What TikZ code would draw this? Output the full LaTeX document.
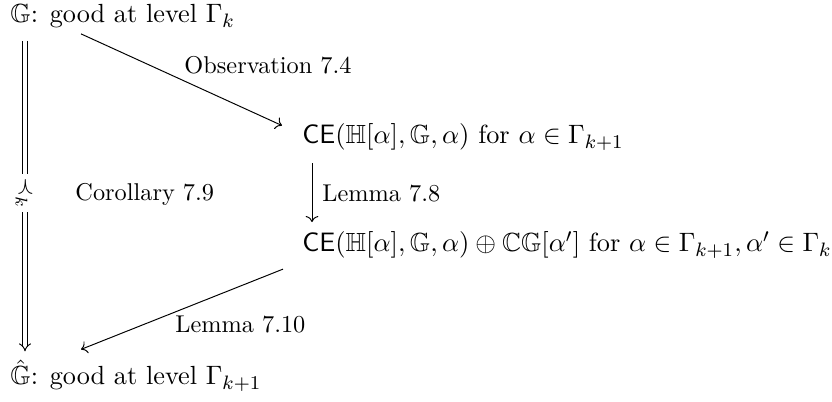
\documentclass[tikz,border=0pt]{standalone}
\usepackage{amsmath,amssymb}
\usetikzlibrary{arrows.meta}
\newcommand{\cell}[3]{\node[cell] (#1) at (#2) {#3}}
\newcommand{\lab}[3]{\node[lab] (#1) at (#2) {#3}}
\begin{document}
\begin{tikzpicture}[x=0.4115pt, y=-0.4115pt,
	cell/.style={anchor=base west, inner sep=0pt, font=\fontsize{10.8}{13}\selectfont},
	lab/.style={anchor=base west, inner sep=0pt},
	map/.style={-{To}},
	imp/.style={double, double distance=1.3pt, -{Implies}}]
\useasboundingbox (0,0) rectangle (832,402);
%Statements
	\cell{gk}{10,23}{$\mathbb{G}$: good at level $\Gamma_k$};
	\cell{ce}{302,144}{$\mathsf{CE}(\mathbb{H}[\alpha],\mathbb{G},\alpha)$ for $\alpha\in\Gamma_{k+1}$};
	\cell{ceplus}{302,252}{$\mathsf{CE}(\mathbb{H}[\alpha],\mathbb{G},\alpha)\oplus\mathbb{CG}[\alpha']$ for $\alpha\in\Gamma_{k+1},\alpha'\in\Gamma_k$};
	\cell{gh}{10,385}{$\hat{\mathbb{G}}$: good at level $\Gamma_{k+1}$};
%The arrows
	\draw[map] ([shift={(71,5)}]gk.south west) -- ([shift={(-20,2)}]ce.north west);
	\draw[map] ([shift={(10,12)}]ce.south west) -- ([shift={(10,-9)}]ceplus.north west);
	\draw[map] ([shift={(-19,10)}]ceplus.south west) -- ([shift={(71,-10)}]gh.north west);
	\draw[imp] ([shift={(15,12)}]gk.south west) -- ([shift={(15,-8)}]gh.north west);
	\node[fill=white, inner sep=1.5pt, rotate=-90] (prk) at (24,193) {$\prec_k$};
%Labels
	\lab{obs}{184,74}{Observation 7.4};
	\lab{lemb}{322,202}{Lemma 7.8};
	\lab{cor}{75,201}{Corollary 7.9};
	\lab{lemc}{175,333}{Lemma 7.10};
\end{tikzpicture}
\end{document}
